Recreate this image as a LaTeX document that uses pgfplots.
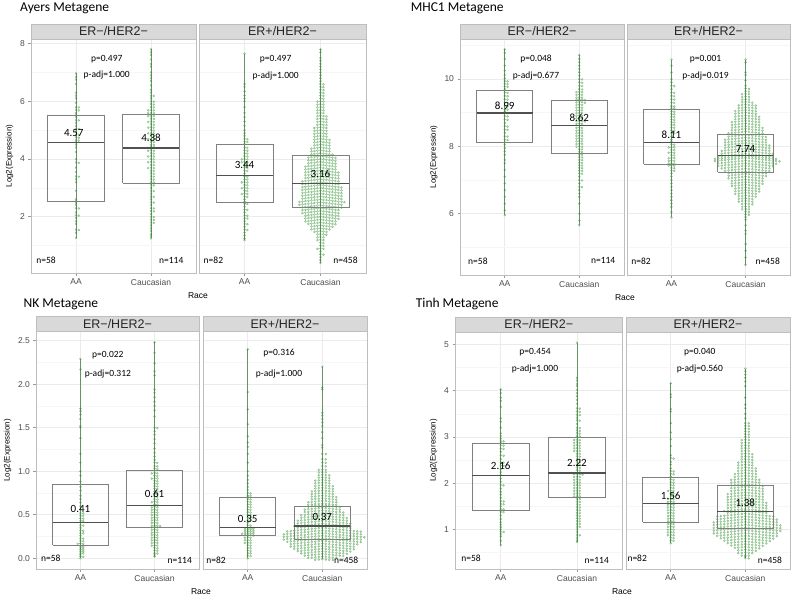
\documentclass[border=0pt]{standalone}
\usepackage{fontspec}
\setmainfont{Liberation Sans}
\newfontfamily\carl{Carlito}
\usepackage{pgfplots}
\usepackage{pgfplotstable}
\pgfplotsset{compat=1.18}
\definecolor{gridmaj}{RGB}{235,235,235}
\definecolor{gridmin}{RGB}{246,246,246}
\definecolor{bordc}{RGB}{190,190,190}
\definecolor{stripc}{RGB}{217,217,217}
\definecolor{ticktext}{RGB}{77,77,77}
\definecolor{boxc}{RGB}{128,128,128}
\definecolor{medc}{RGB}{80,80,80}
\definecolor{dotfill}{RGB}{160,210,160}
\definecolor{dotdraw}{RGB}{110,175,110}
\definecolor{clinec}{RGB}{60,120,60}

\def\swdx{2.8}
\def\swdy{0.35}
\pgfdeclareplotmark{swarm}{%
  \pgfmathtruncatemacro\swN{\swcnt-1}%
  \foreach \k in {0,...,\swN}{%
    \pgfmathsetmacro\swo{ceil(\k/2)*(1-2*mod(\k+1,2))}%
    \pgfmathsetmacro\swx{\swo*\swdx}%
    \pgfmathsetmacro\swy{-abs(\swo)*\swdy}%
    \pgfpathcircle{\pgfpoint{\swx pt}{\swy pt}}{1.05pt}%
    \pgfusepath{fill,stroke}%
  }%
}

\tikzset{
 ptxt/.style={font=\carl\fontsize{9.5}{11}\selectfont, anchor=center},
 mtxt/.style={font=\carl\fontsize{11}{13}\selectfont, anchor=center},
}
\pgfplotsset{
 facet/.style={scale only axis, anchor=north west, clip=false,
   xmin=0.4, xmax=2.6, xtick={1,2}, xticklabels={AA,Caucasian},
   tick pos=left, tick align=outside, major tick length=2.5pt, minor tick length=0pt,
   xmajorgrids, ymajorgrids, yminorgrids,
   major grid style={color=gridmaj, line width=0.7pt},
   minor grid style={color=gridmin, line width=0.5pt},
   axis line style={color=bordc, line width=0.7pt},
   major tick style={color=bordc!80!black, line width=0.6pt},
   tick label style={font=\fontsize{8.5}{10}\selectfont, text=ticktext},
   /pgf/number format/assume math mode=true,
   ylabel style={font=\fontsize{8}{10}\selectfont, text=black},
 },
 facetR/.style={facet, yticklabels={}, every y tick/.style={draw=none}},
 over/.style={scale only axis, anchor=north west, clip=false, hide axis, xmin=0.4, xmax=2.6},
 swarmplot/.style={only marks, mark=swarm,
   mark options={fill=dotfill, draw=dotdraw, line width=0.25pt, fill opacity=0.75, draw opacity=0.85},
   visualization depends on={\thisrow{n}\as\swcnt},
   visualization depends on={#1\as\swdx}},
 swarmplot/.default=2.8,
 cline/.style={color=clinec, line width=0.6pt, opacity=0.75, forget plot},
 gA1/.style={at={(31pt,-39pt)}, width=165pt, height=234pt, ymin=0.05, ymax=8.16},
 gA2/.style={at={(199pt,-39pt)}, width=167pt, height=234pt, ymin=0.05, ymax=8.16},
 gM1/.style={at={(460pt,-39pt)}, width=164pt, height=236pt, ymin=4.18, ymax=11.19},
 gM2/.style={at={(627pt,-39pt)}, width=163pt, height=236pt, ymin=4.18, ymax=11.19},
 gN1/.style={at={(36pt,-331.7pt)}, width=163pt, height=237.3pt, ymin=-0.123, ymax=2.603},
 gN2/.style={at={(203pt,-331.7pt)}, width=164pt, height=237.3pt, ymin=-0.123, ymax=2.603},
 gT1/.style={at={(455pt,-332pt)}, width=167.7pt, height=237pt, ymin=0.142, ymax=5.27},
 gT2/.style={at={(626pt,-332pt)}, width=164pt, height=237pt, ymin=0.142, ymax=5.27},
}
\newcommand\strip[1]{%
  \draw[fill=stripc, draw=bordc, line width=0.7pt] (rel axis cs:0,1) rectangle ([yshift=15pt]rel axis cs:1,1);
  \node[font=\fontsize{12.5}{14}\selectfont, text=black!85] at ([yshift=7.5pt]rel axis cs:0.5,1) {#1};}
\newcommand\boxp[5]{%
  \addplot[boxc, line width=0.8pt, forget plot] coordinates {(#1,#3) (#2,#3) (#2,#5) (#1,#5) (#1,#3)};
  \addplot[medc, line width=1.3pt, forget plot] coordinates {(#1,#4) (#2,#4)};}

% ---------- Ayers ----------
\pgfplotstableread[row sep=\\]{y n\\6.97 1\\6.85 1\\6.75 1\\6.6 1\\6.3 1\\6.2 1\\6.1 1\\5.95 1\\5.8 2\\5.7 2\\5.6 1\\5.52 1\\5.45 1\\5.35 2\\5.25 1\\5.15 1\\5.05 2\\4.95 1\\4.85 2\\4.75 2\\4.65 2\\4.58 1\\4.5 1\\4.4 1\\4.25 1\\4.0 1\\3.88 2\\3.7 1\\3.55 1\\3.4 2\\3.3 1\\3.2 1\\2.9 1\\2.6 1\\2.55 1\\2.48 1\\2.4 1\\2.3 2\\2.15 1\\2.05 2\\1.95 1\\1.85 1\\1.75 1\\1.55 2\\1.45 1\\1.27 1\\}\tAa
\pgfplotstableread[row sep=\\]{y n\\7.8 1\\7.7 1\\7.6 1\\7.45 1\\7.3 1\\7.2 1\\7.0 1\\6.9 1\\6.8 1\\6.7 1\\6.55 1\\6.4 1\\6.3 1\\6.2 2\\6.1 1\\6.0 2\\5.9 2\\5.8 2\\5.7 3\\5.6 3\\5.5 3\\5.4 2\\5.3 3\\5.2 2\\5.1 3\\5.0 2\\4.9 3\\4.8 2\\4.7 3\\4.6 2\\4.5 2\\4.42 2\\4.3 3\\4.2 2\\4.1 3\\4.0 2\\3.9 3\\3.8 2\\3.7 3\\3.6 2\\3.5 2\\3.4 2\\3.3 2\\3.2 2\\3.1 2\\3.0 1\\2.9 2\\2.8 1\\2.7 2\\2.6 1\\2.5 2\\2.4 1\\2.3 2\\2.2 2\\2.1 1\\2.0 2\\1.9 2\\1.8 2\\1.7 1\\1.6 1\\1.5 1\\1.4 1\\1.33 1\\1.25 1\\}\tAb
\pgfplotstableread[row sep=\\]{y n\\7.65 1\\6.6 1\\6.5 1\\6.35 1\\6.2 1\\6.1 1\\6.0 1\\5.8 1\\5.6 1\\5.45 1\\5.3 1\\5.15 1\\5.0 1\\4.9 1\\4.8 1\\4.7 2\\4.6 2\\4.52 1\\4.4 2\\4.3 2\\4.2 2\\4.1 2\\4.0 3\\3.9 3\\3.8 2\\3.7 2\\3.6 2\\3.5 1\\3.4 2\\3.3 2\\3.2 3\\3.1 2\\3.0 3\\2.9 2\\2.8 3\\2.7 2\\2.6 1\\2.52 1\\2.45 2\\2.35 1\\2.25 2\\2.15 1\\2.05 2\\1.95 2\\1.85 1\\1.75 2\\1.65 1\\1.55 2\\1.45 1\\1.35 1\\1.25 1\\1.19 1\\}\tAc
\pgfplotstableread[row sep=\\]{y n\\7.8 1\\7.7 1\\7.5 1\\7.4 1\\7.3 1\\7.2 1\\7.1 1\\7.0 1\\6.9 1\\6.8 1\\6.7 1\\6.6 2\\6.5 2\\6.4 2\\6.3 2\\6.2 2\\6.1 2\\6.0 3\\5.9 3\\5.8 3\\5.7 3\\5.6 3\\5.5 4\\5.4 4\\5.3 4\\5.2 4\\5.1 5\\5.0 5\\4.9 5\\4.8 5\\4.7 6\\4.6 6\\4.5 6\\4.4 7\\4.3 7\\4.2 8\\4.1 10\\4.0 10\\3.9 10\\3.8 11\\3.7 11\\3.6 12\\3.5 12\\3.4 12\\3.3 13\\3.2 13\\3.1 14\\3.0 14\\2.9 14\\2.8 14\\2.7 14\\2.6 16\\2.5 15\\2.4 14\\2.3 13\\2.2 13\\2.1 12\\2.0 12\\1.9 11\\1.8 10\\1.7 8\\1.6 7\\1.5 5\\1.4 4\\1.3 3\\1.2 3\\1.1 2\\1.0 2\\0.9 3\\0.8 1\\0.7 2\\0.6 1\\0.5 1\\0.4 1\\}\tAd
% ---------- MHC1 ----------
\pgfplotstableread[row sep=\\]{y n\\10.88 1\\10.78 1\\10.6 1\\10.4 1\\10.25 1\\10.12 1\\10.02 1\\9.94 2\\9.86 2\\9.78 2\\9.7 1\\9.6 2\\9.5 2\\9.4 2\\9.3 2\\9.2 2\\9.1 2\\9.05 1\\9.0 2\\8.9 2\\8.8 2\\8.7 1\\8.6 2\\8.5 2\\8.4 1\\8.3 2\\8.2 2\\8.12 1\\8.05 1\\7.95 1\\7.85 1\\7.75 1\\7.6 1\\7.5 1\\7.3 1\\7.1 1\\6.9 1\\6.7 1\\6.5 1\\6.3 1\\6.1 1\\5.96 1\\}\tMa
\pgfplotstableread[row sep=\\]{y n\\10.71 1\\10.6 1\\10.5 1\\10.4 1\\10.3 1\\10.2 1\\10.1 1\\10.0 2\\9.9 2\\9.8 2\\9.7 2\\9.62 3\\9.54 3\\9.46 3\\9.4 4\\9.32 4\\9.24 3\\9.16 3\\9.08 3\\9.0 3\\8.92 3\\8.84 3\\8.76 4\\8.68 3\\8.56 3\\8.48 3\\8.40 3\\8.32 3\\8.24 3\\8.16 3\\8.08 3\\8.0 3\\7.92 2\\7.84 2\\7.76 2\\7.68 2\\7.6 2\\7.52 2\\7.44 2\\7.36 2\\7.28 2\\7.2 2\\7.1 1\\7.0 2\\6.9 1\\6.8 2\\6.7 1\\6.6 1\\6.5 1\\6.3 1\\6.0 1\\5.8 1\\5.66 1\\}\tMb
\pgfplotstableread[row sep=\\]{y n\\10.58 1\\10.4 1\\10.2 1\\10.0 1\\9.9 1\\9.8 2\\9.7 1\\9.6 2\\9.5 2\\9.4 2\\9.3 2\\9.2 2\\9.14 2\\9.04 2\\8.96 2\\8.88 2\\8.8 2\\8.72 2\\8.64 2\\8.56 2\\8.48 2\\8.4 2\\8.3 1\\8.2 1\\8.14 1\\8.06 2\\7.98 3\\7.9 2\\7.82 3\\7.74 2\\7.66 3\\7.58 3\\7.5 3\\7.44 3\\7.36 2\\7.28 2\\7.2 1\\7.1 1\\7.0 1\\6.9 1\\6.8 1\\6.7 1\\6.6 1\\6.5 1\\6.4 1\\6.3 1\\6.2 1\\6.05 1\\5.89 1\\}\tMc
\pgfplotstableread[row sep=\\]{y n\\10.58 1\\10.5 1\\10.2 1\\10.12 1\\9.96 1\\9.8 1\\9.72 2\\9.64 2\\9.56 3\\9.48 3\\9.40 3\\9.32 4\\9.24 6\\9.16 6\\9.08 7\\9.00 7\\8.92 8\\8.84 8\\8.76 9\\8.68 9\\8.60 10\\8.52 10\\8.44 11\\8.34 12\\8.26 13\\8.18 13\\8.10 14\\8.02 14\\7.94 15\\7.86 16\\7.78 17\\7.72 19\\7.66 20\\7.58 18\\7.50 17\\7.42 15\\7.34 14\\7.26 12\\7.18 12\\7.10 11\\7.02 10\\6.94 10\\6.86 9\\6.78 8\\6.70 8\\6.62 7\\6.54 6\\6.46 5\\6.38 5\\6.30 4\\6.22 3\\6.14 3\\6.06 2\\5.98 2\\5.90 1\\5.82 1\\5.66 1\\5.5 1\\5.4 1\\5.1 1\\4.9 1\\4.7 1\\4.48 1\\}\tMd
% ---------- NK ----------
\pgfplotstableread[row sep=\\]{y n\\2.29 1\\2.17 1\\1.72 1\\1.69 1\\1.65 1\\1.6 1\\1.52 1\\1.5 1\\1.38 1\\1.2 1\\1.1 1\\1.0 1\\0.95 1\\0.88 1\\0.82 1\\0.78 1\\0.72 1\\0.68 1\\0.64 1\\0.6 1\\0.56 1\\0.52 2\\0.49 2\\0.46 2\\0.43 2\\0.38 2\\0.35 1\\0.32 2\\0.29 2\\0.26 1\\0.23 2\\0.2 2\\0.17 3\\0.14 2\\0.12 2\\0.1 2\\0.08 2\\0.06 2\\0.04 1\\0.02 2\\0.0 1\\}\tNa
\pgfplotstableread[row sep=\\]{y n\\2.48 1\\2.36 1\\2.24 1\\2.15 1\\2.1 1\\1.94 1\\1.9 1\\1.85 1\\1.8 1\\1.75 1\\1.7 1\\1.63 1\\1.5 2\\1.46 1\\1.42 1\\1.37 1\\1.32 1\\1.26 1\\1.21 1\\1.17 1\\1.13 1\\1.1 2\\1.06 2\\1.03 2\\0.98 3\\0.95 2\\0.92 3\\0.89 2\\0.86 2\\0.83 2\\0.8 2\\0.77 2\\0.74 2\\0.71 2\\0.68 2\\0.65 3\\0.62 2\\0.59 3\\0.56 3\\0.53 3\\0.5 3\\0.47 3\\0.44 3\\0.41 3\\0.38 4\\0.36 3\\0.33 3\\0.30 3\\0.27 3\\0.24 3\\0.21 3\\0.18 3\\0.15 3\\0.12 2\\0.09 2\\0.06 2\\0.04 1\\0.02 1\\}\tNb
\pgfplotstableread[row sep=\\]{y n\\2.40 1\\1.91 1\\1.71 1\\1.54 1\\1.4 1\\1.33 1\\1.28 1\\1.2 1\\1.1 1\\1.0 1\\0.95 1\\0.9 1\\0.86 1\\0.82 1\\0.785 1\\0.75 2\\0.72 2\\0.705 1\\0.68 2\\0.65 2\\0.62 2\\0.59 2\\0.56 2\\0.53 2\\0.5 2\\0.47 2\\0.44 2\\0.41 1\\0.38 2\\0.35 4\\0.33 4\\0.31 4\\0.29 5\\0.27 4\\0.24 3\\0.21 3\\0.18 3\\0.15 2\\0.12 2\\0.09 2\\0.06 2\\0.03 2\\0.0 1\\}\tNc
\pgfplotstableread[row sep=\\]{y n\\2.20 1\\1.96 1\\1.94 1\\1.67 1\\1.64 1\\1.6 1\\1.56 1\\1.52 1\\1.45 1\\1.38 1\\1.3 1\\1.27 1\\1.2 2\\1.14 2\\1.1 2\\1.06 2\\1.02 3\\0.99 3\\0.96 4\\0.93 4\\0.9 5\\0.87 5\\0.84 6\\0.81 6\\0.78 7\\0.75 7\\0.72 8\\0.69 8\\0.66 9\\0.63 9\\0.61 10\\0.58 11\\0.55 12\\0.52 13\\0.49 14\\0.46 15\\0.43 16\\0.40 17\\0.38 16\\0.35 22\\0.32 23\\0.29 24\\0.26 23\\0.23 22\\0.20 20\\0.17 19\\0.14 18\\0.11 16\\0.08 14\\0.05 12\\0.02 9\\-0.01 6\\}\tNd
% ---------- Tinh ----------
\pgfplotstableread[row sep=\\]{y n\\4.03 1\\3.95 1\\3.85 1\\3.78 1\\3.65 1\\3.4 1\\3.33 1\\3.2 1\\3.08 1\\3.02 1\\2.96 1\\2.91 2\\2.87 1\\2.82 2\\2.75 2\\2.68 1\\2.6 2\\2.52 1\\2.45 2\\2.38 2\\2.3 1\\2.24 1\\2.18 1\\2.1 1\\2.03 1\\1.96 2\\1.88 1\\1.81 1\\1.75 1\\1.68 1\\1.61 2\\1.55 2\\1.5 1\\1.44 2\\1.38 2\\1.3 1\\1.22 1\\1.15 1\\1.1 1\\1.05 1\\1.0 1\\0.95 2\\0.9 1\\0.85 1\\0.75 1\\0.66 1\\}\tTa
\pgfplotstableread[row sep=\\]{y n\\5.04 1\\4.28 1\\4.22 1\\4.15 1\\4.1 1\\4.02 1\\3.95 1\\3.88 1\\3.8 1\\3.72 1\\3.62 2\\3.55 2\\3.48 2\\3.42 1\\3.36 2\\3.28 1\\3.2 2\\3.14 2\\3.08 2\\3.02 2\\2.94 3\\2.88 3\\2.82 3\\2.76 3\\2.7 3\\2.64 2\\2.58 2\\2.52 2\\2.46 2\\2.4 2\\2.34 2\\2.28 2\\2.2 4\\2.14 3\\2.08 3\\2.02 3\\1.96 3\\1.9 3\\1.84 3\\1.78 3\\1.72 3\\1.66 2\\1.6 2\\1.54 2\\1.48 2\\1.42 2\\1.36 2\\1.3 2\\1.24 2\\1.18 2\\1.12 2\\1.06 2\\1.0 1\\0.94 1\\0.88 2\\0.82 1\\0.76 1\\0.73 1\\}\tTb
\pgfplotstableread[row sep=\\]{y n\\4.16 1\\3.92 1\\3.86 1\\3.6 1\\3.55 1\\3.3 1\\3.1 1\\2.95 1\\2.8 1\\2.6 1\\2.54 2\\2.46 1\\2.4 1\\2.32 1\\2.26 2\\2.2 2\\2.14 1\\2.08 2\\2.02 2\\1.96 2\\1.9 2\\1.84 3\\1.78 2\\1.72 2\\1.66 3\\1.6 3\\1.54 3\\1.48 3\\1.42 3\\1.36 3\\1.3 3\\1.24 3\\1.18 3\\1.12 3\\1.06 3\\1.0 3\\0.94 3\\0.88 3\\0.82 2\\0.76 2\\0.7 1\\}\tTc
\pgfplotstableread[row sep=\\]{y n\\4.48 1\\4.42 1\\4.35 1\\4.28 1\\4.2 1\\4.1 1\\3.85 1\\3.7 1\\3.62 1\\3.5 1\\3.4 1\\3.3 2\\3.24 2\\3.18 2\\3.12 2\\3.06 2\\3.0 2\\2.94 3\\2.88 3\\2.82 3\\2.76 3\\2.7 3\\2.64 4\\2.58 4\\2.52 4\\2.46 5\\2.4 5\\2.34 6\\2.28 6\\2.22 7\\2.16 7\\2.1 9\\2.04 9\\1.98 10\\1.92 10\\1.86 10\\1.80 11\\1.74 11\\1.68 11\\1.62 12\\1.56 12\\1.50 12\\1.44 13\\1.40 12\\1.34 17\\1.28 18\\1.22 19\\1.16 20\\1.10 20\\1.04 20\\0.98 19\\0.92 18\\0.86 16\\0.80 14\\0.74 12\\0.68 10\\0.62 8\\0.56 6\\0.50 5\\0.44 3\\0.41 1\\0.38 2\\}\tTd

\begin{document}
\begin{tikzpicture}
\useasboundingbox (0pt,0pt) rectangle (800pt,-600pt);
\tikzset{ttl/.style={anchor=base west, font=\carl\fontsize{13.5}{16}\selectfont},
  racel/.style={font=\fontsize{8.5}{10}\selectfont}}
\node[ttl] at (16.7pt,-11.5pt) {Ayers Metagene};
\node[ttl] at (407.3pt,-11.5pt) {MHC1 Metagene};
\node[ttl] at (20pt,-307pt) {NK Metagene};
\node[ttl] at (412.3pt,-307pt) {Tinh Metagene};
\node[racel] at (198pt,-296pt) {Race};
\node[racel] at (625pt,-298pt) {Race};
\node[racel] at (201pt,-592pt) {Race};
\node[racel] at (622pt,-592pt) {Race};

% ===== Ayers =====
\begin{axis}[facet, gA1, ytick={2,4,6,8}, minor ytick={1,3,5,7}, ylabel={Log2(Expression)}]
 \strip{ER−/HER2−}
 \addplot[swarmplot] table[x expr=1,y=y]{\tAa};
 \addplot[swarmplot] table[x expr=2,y=y]{\tAb};
\end{axis}
\begin{axis}[over, gA1]
 \addplot[cline] coordinates {(1,1.27) (1,6.97)};
 \addplot[cline] coordinates {(2,1.25) (2,7.8)};
 \boxp{0.625}{1.375}{2.52}{4.57}{5.50}
 \boxp{1.625}{2.375}{3.16}{4.38}{5.55}
 \node[ptxt] at (axis cs:1.41,7.47) {p=0.497};
 \node[ptxt] at (axis cs:1.41,6.91) {p-adj=1.000};
 \node[ptxt] at (axis cs:0.60,0.49) {n=58};
 \node[ptxt] at (axis cs:2.27,0.49) {n=114};
 \node[mtxt] at (axis cs:0.97,4.89) {4.57};
 \node[mtxt] at (axis cs:2,4.75) {4.38};
\end{axis}
\begin{axis}[facetR, gA2, ytick={2,4,6,8}, minor ytick={1,3,5,7}]
 \strip{ER+/HER2−}
 \addplot[swarmplot] table[x expr=1,y=y]{\tAc};
 \addplot[swarmplot=3.0] table[x expr=2,y=y]{\tAd};
\end{axis}
\begin{axis}[over, gA2]
 \addplot[cline] coordinates {(1,1.19) (1,7.65)};
 \addplot[cline] coordinates {(2,0.4) (2,7.8)};
 \boxp{0.625}{1.375}{2.50}{3.44}{4.49}
 \boxp{1.625}{2.375}{2.34}{3.16}{4.12}
 \node[ptxt] at (axis cs:1.41,7.47) {p=0.497};
 \node[ptxt] at (axis cs:1.41,6.88) {p-adj=1.000};
 \node[ptxt] at (axis cs:0.59,0.49) {n=82};
 \node[ptxt] at (axis cs:2.33,0.49) {n=458};
 \node[mtxt] at (axis cs:1,3.79) {3.44};
 \node[mtxt] at (axis cs:2,3.47) {3.16};
\end{axis}

% ===== MHC1 =====
\begin{axis}[facet, gM1, ytick={6,8,10}, minor ytick={5,7,9,11}, ylabel={Log2(Expression)}]
 \strip{ER−/HER2−}
 \addplot[swarmplot] table[x expr=1,y=y]{\tMa};
 \addplot[swarmplot] table[x expr=2,y=y]{\tMb};
\end{axis}
\begin{axis}[over, gM1]
 \addplot[cline] coordinates {(1,5.96) (1,10.88)};
 \addplot[cline] coordinates {(2,5.66) (2,10.71)};
 \boxp{0.625}{1.375}{8.11}{8.99}{9.67}
 \boxp{1.625}{2.375}{7.79}{8.62}{9.38}
 \node[ptxt] at (axis cs:1.42,10.585) {p=0.048};
 \node[ptxt] at (axis cs:1.42,10.09) {p-adj=0.677};
 \node[ptxt] at (axis cs:0.64,4.60) {n=58};
 \node[ptxt] at (axis cs:2.32,4.60) {n=114};
 \node[mtxt] at (axis cs:1,9.20) {8.99};
 \node[mtxt] at (axis cs:2,8.86) {8.62};
\end{axis}
\begin{axis}[facetR, gM2, ytick={6,8,10}, minor ytick={5,7,9,11}]
 \strip{ER+/HER2−}
 \addplot[swarmplot] table[x expr=1,y=y]{\tMc};
 \addplot[swarmplot=3.4] table[x expr=2,y=y]{\tMd};
\end{axis}
\begin{axis}[over, gM2]
 \addplot[cline] coordinates {(1,5.89) (1,10.58)};
 \addplot[cline] coordinates {(2,4.48) (2,10.58)};
 \boxp{0.625}{1.375}{7.48}{8.11}{9.10}
 \boxp{1.625}{2.375}{7.23}{7.74}{8.37}
 \node[ptxt] at (axis cs:1.46,10.585) {p=0.001};
 \node[ptxt] at (axis cs:1.46,10.09) {p-adj=0.019};
 \node[ptxt] at (axis cs:0.59,4.60) {n=82};
 \node[ptxt] at (axis cs:2.30,4.60) {n=458};
 \node[mtxt] at (axis cs:1,8.34) {8.11};
 \node[mtxt] at (axis cs:2,7.92) {7.74};
\end{axis}

% ===== NK =====
\begin{axis}[facet, gN1, ytick={0,0.5,1,1.5,2,2.5}, minor ytick={0.25,0.75,1.25,1.75,2.25}, ylabel={Log2(Expression)},
  yticklabel style={/pgf/number format/fixed, /pgf/number format/fixed zerofill, /pgf/number format/precision=1}]
 \strip{ER−/HER2−}
 \addplot[swarmplot] table[x expr=1,y=y]{\tNa};
 \addplot[swarmplot] table[x expr=2,y=y]{\tNb};
\end{axis}
\begin{axis}[over, gN1]
 \addplot[cline] coordinates {(1,0.0) (1,2.29)};
 \addplot[cline] coordinates {(2,0.02) (2,2.48)};
 \boxp{0.625}{1.375}{0.15}{0.41}{0.85}
 \boxp{1.625}{2.375}{0.35}{0.61}{1.01}
 \node[ptxt] at (axis cs:1.37,2.336) {p=0.022};
 \node[ptxt] at (axis cs:1.37,2.114) {p-adj=0.312};
 \node[ptxt] at (axis cs:0.60,0.0) {n=58};
 \node[ptxt] at (axis cs:2.34,-0.023) {n=114};
 \node[mtxt] at (axis cs:1,0.563) {0.41};
 \node[mtxt] at (axis cs:2,0.739) {0.61};
\end{axis}
\begin{axis}[facetR, gN2, ytick={0,0.5,1,1.5,2,2.5}, minor ytick={0.25,0.75,1.25,1.75,2.25}]
 \strip{ER+/HER2−}
 \addplot[swarmplot] table[x expr=1,y=y]{\tNc};
 \addplot[swarmplot=3.5] table[x expr=2,y=y]{\tNd};
\end{axis}
\begin{axis}[over, gN2]
 \addplot[cline] coordinates {(1,0.0) (1,2.40)};
 \addplot[cline] coordinates {(2,-0.01) (2,2.20)};
 \boxp{0.625}{1.375}{0.26}{0.35}{0.70}
 \boxp{1.625}{2.375}{0.22}{0.37}{0.60}
 \node[ptxt] at (axis cs:1.42,2.362) {p=0.316};
 \node[ptxt] at (axis cs:1.42,2.114) {p-adj=1.000};
 \node[ptxt] at (axis cs:0.575,-0.02) {n=82};
 \node[ptxt] at (axis cs:2.32,-0.02) {n=458};
 \node[mtxt] at (axis cs:1,0.452) {0.35};
 \node[mtxt] at (axis cs:2,0.471) {0.37};
\end{axis}

% ===== Tinh =====
\begin{axis}[facet, gT1, ytick={1,2,3,4,5}, minor ytick={0.5,1.5,2.5,3.5,4.5}, ylabel={Log2(Expression)}]
 \strip{ER−/HER2−}
 \addplot[swarmplot] table[x expr=1,y=y]{\tTa};
 \addplot[swarmplot] table[x expr=2,y=y]{\tTb};
\end{axis}
\begin{axis}[over, gT1]
 \addplot[cline] coordinates {(1,0.66) (1,4.03)};
 \addplot[cline] coordinates {(2,0.73) (2,5.04)};
 \boxp{0.625}{1.375}{1.40}{2.16}{2.86}
 \boxp{1.625}{2.375}{1.69}{2.22}{2.99}
 \node[ptxt] at (axis cs:1.45,4.84) {p=0.454};
 \node[ptxt] at (axis cs:1.45,4.466) {p-adj=1.000};
 \node[ptxt] at (axis cs:0.61,0.373) {n=58};
 \node[ptxt] at (axis cs:2.26,0.32) {n=114};
 \node[mtxt] at (axis cs:1,2.375) {2.16};
 \node[mtxt] at (axis cs:2,2.427) {2.22};
\end{axis}
\begin{axis}[facetR, gT2, ytick={1,2,3,4,5}, minor ytick={0.5,1.5,2.5,3.5,4.5}]
 \strip{ER+/HER2−}
 \addplot[swarmplot] table[x expr=1,y=y]{\tTc};
 \addplot[swarmplot=3.5] table[x expr=2,y=y]{\tTd};
\end{axis}
\begin{axis}[over, gT2]
 \addplot[cline] coordinates {(1,0.7) (1,4.16)};
 \addplot[cline] coordinates {(2,0.38) (2,4.48)};
 \boxp{0.625}{1.375}{1.15}{1.56}{2.12}
 \boxp{1.625}{2.375}{1.02}{1.38}{1.95}
 \node[ptxt] at (axis cs:1.39,4.84) {p=0.040};
 \node[ptxt] at (axis cs:1.39,4.48) {p-adj=0.560};
 \node[ptxt] at (axis cs:0.55,0.37) {n=82};
 \node[ptxt] at (axis cs:2.33,0.32) {n=458};
 \node[mtxt] at (axis cs:1,1.72) {1.56};
 \node[mtxt] at (axis cs:2,1.575) {1.38};
\end{axis}
\end{tikzpicture}
\end{document}
